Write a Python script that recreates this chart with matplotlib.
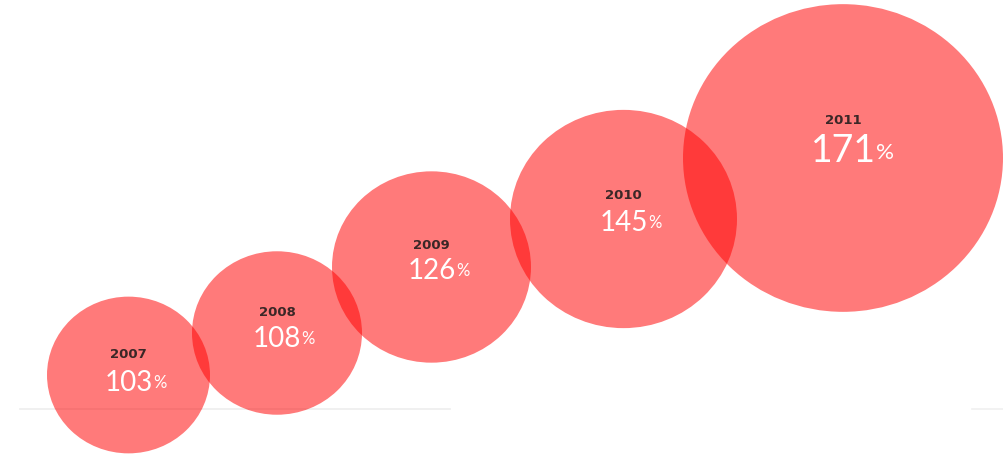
import matplotlib
matplotlib.use("Agg")
import matplotlib.pyplot as plt
from matplotlib.patches import Ellipse

# Data: year and growth percentage
years = ["2007", "2008", "2009", "2010", "2011"]
values = [103, 108, 126, 145, 171]

# Layout of the bubbles (canvas pixel units, y grows downward)
centers_x = [128.5, 277, 431.5, 623.5, 843]
centers_y = [376, 334, 268, 220, 159]
widths = [163, 170, 199, 227, 320]
aspect = 1.04
year_offsets = [-21, -21, -22, -24, -38]
num_offsets = [7, 5, 3, 3, -8]
num_sizes = [20, 20, 20, 20, 27]

W, H = 1004, 456
fig = plt.figure(figsize=(W / 100, H / 100), dpi=100)
ax = fig.add_axes([0, 0, 1, 1])
ax.set_xlim(0, W)
ax.set_ylim(H, 0)
ax.axis("off")

# faint baseline rules
ax.plot([20, 450], [410.5, 410.5], color="#ededed", lw=1.2, zorder=0)
ax.plot([972, 1004], [410.5, 410.5], color="#f0f0f0", lw=1.2, zorder=0)

for i, (yr, v) in enumerate(zip(years, values)):
    cx, cy, w = centers_x[i], centers_y[i], widths[i]
    ax.add_patch(Ellipse((cx, cy), w, w / aspect, facecolor="#ff0000",
                         alpha=0.52, edgecolor="none", zorder=1))
    ax.text(cx, cy + year_offsets[i], yr, ha="center", va="center",
            fontsize=9.5, fontweight="bold",
            color="#3b2727", family="DejaVu Sans", zorder=3)
    num = ax.text(cx, cy + num_offsets[i], str(v), ha="center", va="center",
                  fontsize=num_sizes[i], color="white", family="Lato",
                  zorder=3)
    ax.annotate("%", xy=(1, 0.18), xycoords=num, xytext=(0.3, 0),
                textcoords="offset points", ha="left", va="bottom",
                fontsize=num_sizes[i] * 0.6, color="white",
                family="Lato", zorder=3)

fig.savefig("out.png", dpi=100, facecolor="white")
